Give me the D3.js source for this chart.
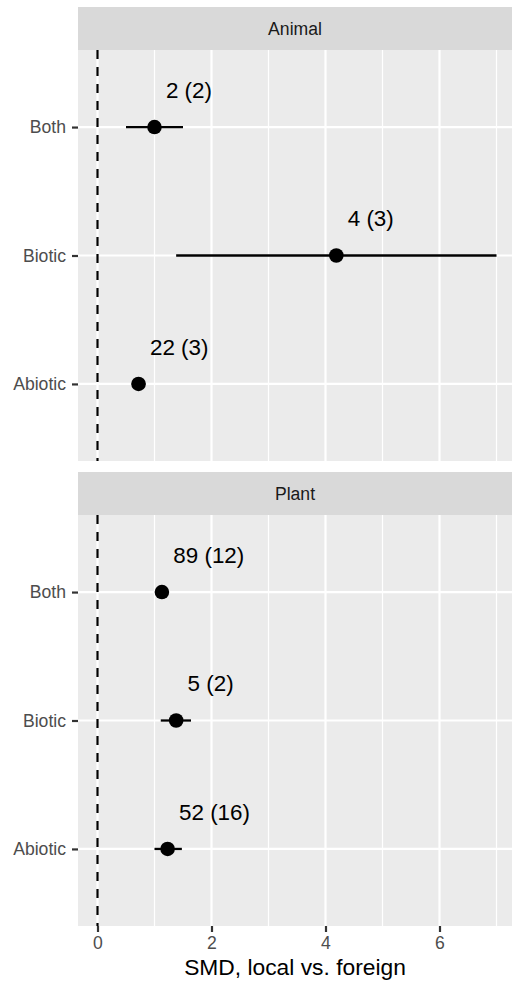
<!DOCTYPE html>
<html>
<head>
<meta charset="utf-8">
<script src="https://cdn.jsdelivr.net/npm/d3@7"></script>
<style>
  body { margin: 0; background: #fff; }
  svg { display: block; font-family: "Liberation Sans", Arial, Helvetica, sans-serif; }
</style>
</head>
<body>
<div id="chart"></div>
<script>
// --- Data ---
const facets = ["Animal", "Plant"];
const categories = ["Abiotic", "Biotic", "Both"]; // bottom to top
const means = {
  Animal: [0.72, 4.19, 1.0],
  Plant: [1.23, 1.38, 1.13]
};
const lower = {
  Animal: [0.6, 1.38, 0.5],
  Plant: [1.0, 1.11, 1.05]
};
const upper = {
  Animal: [0.84, 7.0, 1.5],
  Plant: [1.48, 1.64, 1.21]
};
const labels = {
  Animal: ["22 (3)", "4 (3)", "2 (2)"],
  Plant: ["52 (16)", "5 (2)", "89 (12)"]
};
const xTicks = [0, 2, 4, 6];
const xMinor = [1, 3, 5, 7];

const W = 512, H = 984;
const panelLeft = 78, panelRight = 512;
const panels = [
  { stripTop: 7, top: 50, bottom: 461 },
  { stripTop: 472, top: 515, bottom: 926 }
];

const svg = d3.select('#chart').append('svg')
  .attr('width', W).attr('height', H);

// --- Scales ---
const x = d3.scaleLinear()
  .domain([(panelLeft - 97.5) / 57, (panelRight - 97.5) / 57])
  .range([panelLeft, panelRight]);

facets.forEach((facet, fi) => {
  const p = panels[fi];
  const y = d3.scaleLinear().domain([0.4, 3.6]).range([p.bottom, p.top]);
  const g = svg.append('g');

  // strip
  g.append('rect')
    .attr('x', panelLeft).attr('y', p.stripTop)
    .attr('width', panelRight - panelLeft).attr('height', p.top - p.stripTop)
    .attr('fill', '#D9D9D9');
  g.append('text')
    .attr('x', (panelLeft + panelRight) / 2)
    .attr('y', (p.stripTop + p.top) / 2)
    .attr('dy', '0.36em')
    .attr('text-anchor', 'middle')
    .attr('font-size', 17.6)
    .attr('fill', '#1A1A1A')
    .text(facet);

  // panel background
  g.append('rect')
    .attr('x', panelLeft).attr('y', p.top)
    .attr('width', panelRight - panelLeft).attr('height', p.bottom - p.top)
    .attr('fill', '#EBEBEB');

  // grid
  g.selectAll('.minor').data(xMinor).join('line')
    .attr('x1', d => x(d)).attr('x2', d => x(d))
    .attr('y1', p.top).attr('y2', p.bottom)
    .attr('stroke', '#fff').attr('stroke-width', 1.2);
  g.selectAll('.majorx').data(xTicks).join('line')
    .attr('x1', d => x(d)).attr('x2', d => x(d))
    .attr('y1', p.top).attr('y2', p.bottom)
    .attr('stroke', '#fff').attr('stroke-width', 2.2);
  g.selectAll('.majory').data(categories).join('line')
    .attr('x1', panelLeft).attr('x2', panelRight)
    .attr('y1', (d, i) => y(i + 1)).attr('y2', (d, i) => y(i + 1))
    .attr('stroke', '#fff').attr('stroke-width', 2.2);

  // reference line at 0
  g.append('line')
    .attr('x1', x(0)).attr('x2', x(0))
    .attr('y1', p.top).attr('y2', p.bottom)
    .attr('stroke', '#000').attr('stroke-width', 2.2)
    .attr('stroke-dasharray', '9,8');

  // error bars
  g.selectAll('.err').data(categories).join('line')
    .attr('x1', (d, i) => x(lower[facet][i]))
    .attr('x2', (d, i) => x(upper[facet][i]))
    .attr('y1', (d, i) => y(i + 1)).attr('y2', (d, i) => y(i + 1))
    .attr('stroke', '#000').attr('stroke-width', 2.3);

  // points
  g.selectAll('.pt').data(categories).join('circle')
    .attr('cx', (d, i) => x(means[facet][i]))
    .attr('cy', (d, i) => y(i + 1))
    .attr('r', 7.3)
    .attr('fill', '#000');

  // labels
  g.selectAll('.lab').data(categories).join('text')
    .attr('x', (d, i) => x(means[facet][i] + 0.2))
    .attr('y', (d, i) => y(i + 1 + 0.29))
    .attr('dy', '0.36em')
    .attr('font-size', 22.4)
    .attr('fill', '#000')
    .text((d, i) => labels[facet][i]);

  // y axis
  const yAxis = g.append('g')
    .attr('transform', `translate(${panelLeft},0)`)
    .call(d3.axisLeft(y).tickValues([1, 2, 3]).tickFormat((d) => categories[d - 1])
      .tickSize(6).tickPadding(6));
  yAxis.select('.domain').remove();
  yAxis.selectAll('line').attr('stroke', '#333333').attr('stroke-width', 2.2);
  yAxis.selectAll('text')
    .attr('fill', '#4D4D4D')
    .style('font-size', '17.6px')
    .style('font-family', '"Liberation Sans", Arial, sans-serif');
});

// x axis (bottom panel only)
const last = panels[panels.length - 1];
const xAxis = svg.append('g')
  .attr('transform', `translate(0,${last.bottom})`)
  .call(d3.axisBottom(x).tickValues(xTicks).tickFormat(d3.format('d'))
    .tickSize(6).tickPadding(5));
xAxis.select('.domain').remove();
xAxis.selectAll('line').attr('stroke', '#333333').attr('stroke-width', 2.2);
xAxis.selectAll('text')
  .attr('fill', '#4D4D4D')
  .style('font-size', '17.6px')
  .style('font-family', '"Liberation Sans", Arial, sans-serif');

// axis title
svg.append('text')
  .attr('x', (panelLeft + panelRight) / 2)
  .attr('y', 975)
  .attr('text-anchor', 'middle')
  .attr('font-size', 22.8)
  .attr('fill', '#000')
  .text('SMD, local vs. foreign');
</script>
</body>
</html>
